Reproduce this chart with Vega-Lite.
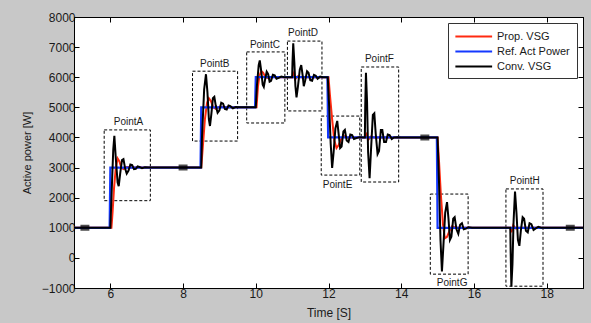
{
  "$schema": "https://vega.github.io/schema/vega-lite/v6.json",
  "width": 509,
  "height": 271,
  "autosize": {"type": "none"},
  "padding": {"left": 74, "top": 17, "right": 8, "bottom": 35},
  "background": "#c8c8c8",
  "config": {
    "view": {"stroke": "black", "strokeWidth": 1, "fill": "white"},
    "font": "Liberation Sans",
    "axis": {"grid": false, "domainColor": "black", "tickColor": "black", "labelColor": "#1a1a1a", "titleColor": "#1a1a1a", "labelFontSize": 12, "titleFontWeight": "normal", "labelFont": "Liberation Sans", "titleFont": "Liberation Sans"}
  },
  "datasets": {
    "boxes": [
      {"name": "PointA", "x1": 5.83, "x2": 7.10, "y1": 1900, "y2": 4250, "lx": 6.5, "ly": 4500},
      {"name": "PointB", "x1": 8.26, "x2": 9.50, "y1": 3880, "y2": 6200, "lx": 8.87, "ly": 6440},
      {"name": "PointC", "x1": 9.75, "x2": 10.80, "y1": 4480, "y2": 6840, "lx": 10.25, "ly": 7070},
      {"name": "PointD", "x1": 10.87, "x2": 11.82, "y1": 4880, "y2": 7200, "lx": 11.3, "ly": 7470},
      {"name": "PointE", "x1": 11.80, "x2": 12.86, "y1": 2750, "y2": 4710, "lx": 12.25, "ly": 2420},
      {"name": "PointF", "x1": 12.90, "x2": 13.93, "y1": 2520, "y2": 6340, "lx": 13.4, "ly": 6600},
      {"name": "PointG", "x1": 14.80, "x2": 15.84, "y1": -540, "y2": 2120, "lx": 15.4, "ly": -840},
      {"name": "PointH", "x1": 16.88, "x2": 17.90, "y1": -940, "y2": 2290, "lx": 17.4, "ly": 2550}
    ],
    "red": [
      {"t": 5.0, "p": 1000}, {"t": 6.03, "p": 1000}, {"t": 6.06, "p": 1500}, {"t": 6.1, "p": 2300}, {"t": 6.15, "p": 3000}, {"t": 6.2, "p": 3300}, {"t": 6.25, "p": 3200}, {"t": 6.3, "p": 3000}, {"t": 6.36, "p": 2950}, {"t": 6.45, "p": 3020}, {"t": 6.6, "p": 3000},
      {"t": 8.5, "p": 3000}, {"t": 8.55, "p": 3800}, {"t": 8.6, "p": 4600}, {"t": 8.66, "p": 5150}, {"t": 8.71, "p": 5300}, {"t": 8.77, "p": 5200}, {"t": 8.83, "p": 5000}, {"t": 8.9, "p": 4950}, {"t": 9.0, "p": 5020}, {"t": 9.15, "p": 5000},
      {"t": 10.02, "p": 5000}, {"t": 10.06, "p": 5700}, {"t": 10.1, "p": 6050}, {"t": 10.15, "p": 6200}, {"t": 10.2, "p": 6150}, {"t": 10.27, "p": 6000}, {"t": 10.35, "p": 5970}, {"t": 10.45, "p": 6010}, {"t": 10.6, "p": 6000},
      {"t": 11.0, "p": 6000}, {"t": 11.03, "p": 6120}, {"t": 11.08, "p": 5930}, {"t": 11.15, "p": 6030}, {"t": 11.25, "p": 6000},
      {"t": 12.0, "p": 6000}, {"t": 12.04, "p": 5400}, {"t": 12.1, "p": 4600}, {"t": 12.16, "p": 3900}, {"t": 12.22, "p": 3650}, {"t": 12.28, "p": 3750}, {"t": 12.35, "p": 3950}, {"t": 12.42, "p": 4050}, {"t": 12.5, "p": 4000},
      {"t": 13.0, "p": 4000}, {"t": 13.04, "p": 4100}, {"t": 13.09, "p": 3920}, {"t": 13.16, "p": 4030}, {"t": 13.25, "p": 4000},
      {"t": 15.0, "p": 4000}, {"t": 15.04, "p": 3200}, {"t": 15.09, "p": 2100}, {"t": 15.15, "p": 1100}, {"t": 15.2, "p": 650}, {"t": 15.26, "p": 700}, {"t": 15.33, "p": 900}, {"t": 15.4, "p": 1050}, {"t": 15.5, "p": 1000},
      {"t": 17.0, "p": 1000}, {"t": 17.03, "p": 850}, {"t": 17.08, "p": 1080}, {"t": 17.15, "p": 980}, {"t": 17.25, "p": 1000}, {"t": 19.0, "p": 1000}
    ],
    "blue": [
      {"t": 5.0, "p": 1000}, {"t": 5.98, "p": 1000}, {"t": 6.0, "p": 3000}, {"t": 8.48, "p": 3000}, {"t": 8.5, "p": 5000}, {"t": 9.98, "p": 5000}, {"t": 10.0, "p": 6000}, {"t": 11.97, "p": 6000}, {"t": 11.99, "p": 4000}, {"t": 14.98, "p": 4000}, {"t": 15.0, "p": 1000}, {"t": 19.0, "p": 1000}
    ],
    "black": [
      {"t": 5.0, "p": 1000}, {"t": 6.0, "p": 1000}, {"t": 6.03, "p": 2000}, {"t": 6.08, "p": 3600}, {"t": 6.11, "p": 4050}, {"t": 6.15, "p": 3300}, {"t": 6.2, "p": 2500}, {"t": 6.23, "p": 2380}, {"t": 6.27, "p": 2800}, {"t": 6.32, "p": 3250}, {"t": 6.36, "p": 3280}, {"t": 6.41, "p": 2950}, {"t": 6.45, "p": 2800}, {"t": 6.5, "p": 2900}, {"t": 6.55, "p": 3100}, {"t": 6.6, "p": 3080}, {"t": 6.65, "p": 2950}, {"t": 6.7, "p": 2960}, {"t": 6.75, "p": 3040}, {"t": 6.8, "p": 3020}, {"t": 6.87, "p": 2980}, {"t": 6.95, "p": 3010}, {"t": 7.05, "p": 3000},
      {"t": 8.5, "p": 3000}, {"t": 8.52, "p": 4000}, {"t": 8.58, "p": 5600}, {"t": 8.63, "p": 6100}, {"t": 8.67, "p": 5500}, {"t": 8.71, "p": 4600}, {"t": 8.74, "p": 4380}, {"t": 8.78, "p": 4800}, {"t": 8.82, "p": 5300}, {"t": 8.86, "p": 5350}, {"t": 8.9, "p": 5050}, {"t": 8.95, "p": 4820}, {"t": 9.0, "p": 4900}, {"t": 9.05, "p": 5150}, {"t": 9.1, "p": 5120}, {"t": 9.15, "p": 4950}, {"t": 9.2, "p": 4930}, {"t": 9.25, "p": 5060}, {"t": 9.3, "p": 5040}, {"t": 9.37, "p": 4970}, {"t": 9.45, "p": 5010}, {"t": 9.55, "p": 5000},
      {"t": 10.0, "p": 5000}, {"t": 10.03, "p": 5700}, {"t": 10.08, "p": 6400}, {"t": 10.11, "p": 6560}, {"t": 10.15, "p": 6200}, {"t": 10.19, "p": 5750}, {"t": 10.22, "p": 5680}, {"t": 10.26, "p": 5950}, {"t": 10.3, "p": 6180}, {"t": 10.34, "p": 6100}, {"t": 10.38, "p": 5850}, {"t": 10.42, "p": 5880}, {"t": 10.47, "p": 6080}, {"t": 10.52, "p": 6060}, {"t": 10.57, "p": 5950}, {"t": 10.63, "p": 5980}, {"t": 10.7, "p": 6020}, {"t": 10.78, "p": 6000},
      {"t": 11.0, "p": 6000}, {"t": 11.01, "p": 6500}, {"t": 11.03, "p": 7130}, {"t": 11.06, "p": 6500}, {"t": 11.09, "p": 5700}, {"t": 11.12, "p": 5330}, {"t": 11.16, "p": 5700}, {"t": 11.21, "p": 6250}, {"t": 11.25, "p": 6400}, {"t": 11.29, "p": 6050}, {"t": 11.32, "p": 5700}, {"t": 11.36, "p": 5900}, {"t": 11.41, "p": 6200}, {"t": 11.45, "p": 6150}, {"t": 11.5, "p": 5900}, {"t": 11.55, "p": 5880}, {"t": 11.6, "p": 6080}, {"t": 11.65, "p": 6050}, {"t": 11.7, "p": 5950}, {"t": 11.77, "p": 6020}, {"t": 11.85, "p": 6000},
      {"t": 11.98, "p": 6000}, {"t": 12.02, "p": 5000}, {"t": 12.06, "p": 3800}, {"t": 12.1, "p": 2990}, {"t": 12.14, "p": 3500}, {"t": 12.19, "p": 4300}, {"t": 12.24, "p": 4550}, {"t": 12.28, "p": 4100}, {"t": 12.32, "p": 3650}, {"t": 12.36, "p": 3700}, {"t": 12.41, "p": 4200}, {"t": 12.45, "p": 4250}, {"t": 12.5, "p": 3900}, {"t": 12.55, "p": 3850}, {"t": 12.6, "p": 4100}, {"t": 12.65, "p": 4080}, {"t": 12.7, "p": 3950}, {"t": 12.77, "p": 3980}, {"t": 12.85, "p": 4010}, {"t": 12.95, "p": 4000},
      {"t": 13.0, "p": 4000}, {"t": 13.01, "p": 5000}, {"t": 13.03, "p": 6150}, {"t": 13.06, "p": 5200}, {"t": 13.09, "p": 3500}, {"t": 13.13, "p": 2650}, {"t": 13.17, "p": 3600}, {"t": 13.22, "p": 4750}, {"t": 13.26, "p": 4800}, {"t": 13.3, "p": 4100}, {"t": 13.35, "p": 3450}, {"t": 13.39, "p": 3550}, {"t": 13.44, "p": 4250}, {"t": 13.48, "p": 4250}, {"t": 13.53, "p": 3850}, {"t": 13.58, "p": 3850}, {"t": 13.63, "p": 4100}, {"t": 13.68, "p": 4080}, {"t": 13.74, "p": 3950}, {"t": 13.8, "p": 4000}, {"t": 13.9, "p": 4010}, {"t": 14.0, "p": 4000},
      {"t": 15.0, "p": 4000}, {"t": 15.04, "p": 2500}, {"t": 15.08, "p": 600}, {"t": 15.12, "p": -450}, {"t": 15.16, "p": 400}, {"t": 15.21, "p": 1500}, {"t": 15.26, "p": 1850}, {"t": 15.3, "p": 1300}, {"t": 15.34, "p": 600}, {"t": 15.38, "p": 700}, {"t": 15.43, "p": 1300}, {"t": 15.47, "p": 1350}, {"t": 15.52, "p": 950}, {"t": 15.57, "p": 800}, {"t": 15.62, "p": 1100}, {"t": 15.67, "p": 1150}, {"t": 15.72, "p": 950}, {"t": 15.78, "p": 970}, {"t": 15.85, "p": 1020}, {"t": 15.95, "p": 1000},
      {"t": 17.0, "p": 1000}, {"t": 17.01, "p": 200}, {"t": 17.03, "p": -950}, {"t": 17.06, "p": -200}, {"t": 17.09, "p": 1200}, {"t": 17.13, "p": 2200}, {"t": 17.17, "p": 1500}, {"t": 17.21, "p": 600}, {"t": 17.25, "p": 400}, {"t": 17.29, "p": 900}, {"t": 17.34, "p": 1350}, {"t": 17.38, "p": 1300}, {"t": 17.43, "p": 900}, {"t": 17.48, "p": 850}, {"t": 17.53, "p": 1150}, {"t": 17.58, "p": 1120}, {"t": 17.64, "p": 930}, {"t": 17.7, "p": 980}, {"t": 17.77, "p": 1030}, {"t": 17.85, "p": 1000}, {"t": 19.0, "p": 1000}
    ],
    "marks": [
      {"t": 5.3, "p": 1000}, {"t": 8.0, "p": 3000}, {"t": 14.65, "p": 4000}, {"t": 18.65, "p": 1000}
    ]
  },
  "layer": [
    {
      "data": {"name": "boxes"},
      "mark": {"type": "rect", "fillOpacity": 0, "stroke": "black", "strokeDash": [3, 2], "strokeWidth": 1},
      "encoding": {
        "x": {"field": "x1", "type": "quantitative", "scale": {"domain": [5, 19], "nice": false, "zero": false},
          "axis": {"orient": "bottom", "values": [6, 8, 10, 12, 14, 16, 18], "tickSize": -5, "labelPadding": 5, "title": "Time [S]", "titleFontSize": 12, "titlePadding": 8}},
        "x2": {"field": "x2"},
        "y": {"field": "y1", "type": "quantitative", "scale": {"domain": [-1000, 8000], "nice": false, "zero": false},
          "axis": {"orient": "left", "format": "d", "values": [-1000, 0, 1000, 2000, 3000, 4000, 5000, 6000, 7000, 8000], "tickSize": -5, "labelPadding": 4, "title": "Active power [W]", "titleFontSize": 11, "titlePadding": 9}},
        "y2": {"field": "y2"}
      }
    },
    {
      "data": {"name": "boxes"},
      "mark": {"type": "text", "fontSize": 10, "font": "Liberation Sans", "color": "#1a1a1a"},
      "encoding": {
        "x": {"field": "lx", "type": "quantitative", "axis": {"orient": "top", "values": [6, 8, 10, 12, 14, 16, 18], "tickSize": -5, "labels": false, "title": null}},
        "y": {"field": "ly", "type": "quantitative", "axis": {"orient": "right", "values": [-1000, 0, 1000, 2000, 3000, 4000, 5000, 6000, 7000, 8000], "tickSize": -5, "labels": false, "title": null}},
        "text": {"field": "name"}
      }
    },
    {
      "data": {"name": "red"},
      "mark": {"type": "line", "strokeWidth": 2},
      "encoding": {
        "x": {"field": "t", "type": "quantitative", "axis": null},
        "y": {"field": "p", "type": "quantitative", "axis": null},
        "color": {"datum": "Prop. VSG", "type": "nominal",
          "scale": {"domain": ["Prop. VSG", "Ref. Act Power", "Conv. VSG"], "range": ["#ff2a10", "#1438ff", "#000000"]},
          "legend": {"title": null, "orient": "top-right", "offset": 6, "fillColor": "white", "strokeColor": "#333333", "padding": 6, "symbolType": "M-1,0H5", "symbolSize": 150, "symbolStrokeWidth": 2, "labelFontSize": 11, "labelFont": "Liberation Sans", "labelColor": "#1a1a1a", "labelOffset": 28, "rowPadding": 2}}
      }
    },
    {
      "data": {"name": "blue"},
      "mark": {"type": "line", "strokeWidth": 2.2},
      "encoding": {
        "x": {"field": "t", "type": "quantitative", "axis": null},
        "y": {"field": "p", "type": "quantitative", "axis": null},
        "color": {"datum": "Ref. Act Power", "type": "nominal"}
      }
    },
    {
      "data": {"name": "black"},
      "mark": {"type": "line", "strokeWidth": 2},
      "encoding": {
        "x": {"field": "t", "type": "quantitative", "axis": null},
        "y": {"field": "p", "type": "quantitative", "axis": null},
        "color": {"datum": "Conv. VSG", "type": "nominal"}
      }
    },
    {
      "data": {"name": "marks"},
      "mark": {"type": "point", "shape": "M-1,-0.4H1M-1,0.4H1", "size": 80, "filled": false, "stroke": "black", "strokeWidth": 2.5},
      "encoding": {
        "x": {"field": "t", "type": "quantitative", "axis": null},
        "y": {"field": "p", "type": "quantitative", "axis": null}
      }
    }
  ],
  "resolve": {"axis": {"x": "independent", "y": "independent"}}
}
